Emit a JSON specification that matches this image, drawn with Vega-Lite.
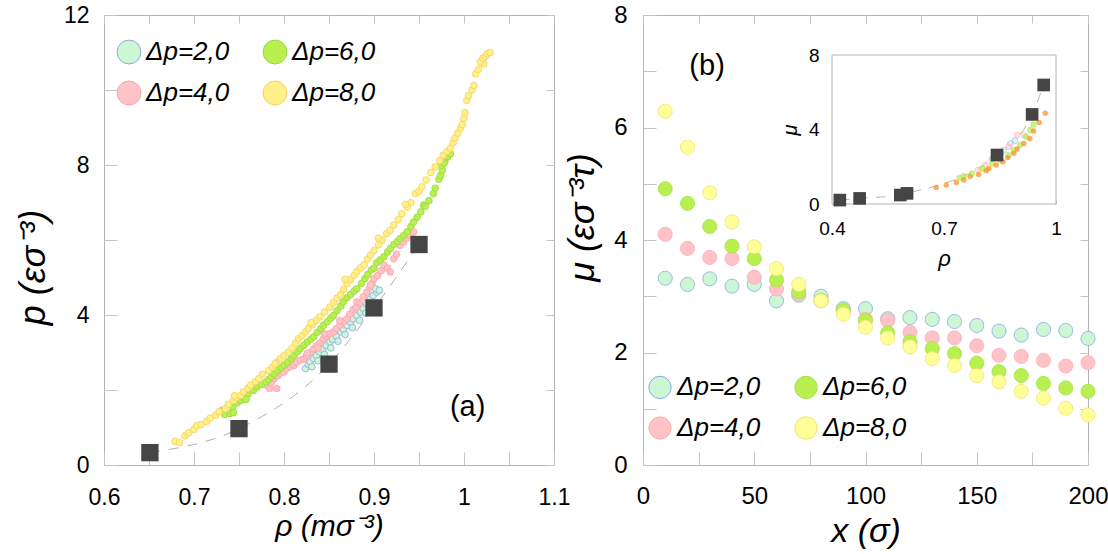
{
  "$schema": "https://vega.github.io/schema/vega-lite/v6.json",
  "autosize": {"type": "pad"},
  "padding": {"left": 14, "top": 2, "right": 0, "bottom": 0},
  "background": "white",
  "config": {
    "font": "Liberation Sans",
    "view": {"stroke": "#b4b4b4", "strokeWidth": 1},
    "axis": {
      "grid": false,
      "domain": false,
      "tickColor": "#c4c4c4",
      "tickWidth": 1,
      "labelColor": "black",
      "titleColor": "black",
      "titleFontWeight": "normal",
      "titleFontStyle": "italic",
      "labelFlush": false,
      "labelOverlap": false,
      "labelBound": false
    },
    "legend": {
      "labelFont": "Liberation Sans",
      "labelFontStyle": "italic",
      "labelColor": "black",
      "symbolStrokeWidth": 1,
      "symbolType": "circle"
    }
  },
  "datasets": {
    "pa_sq": [
      {"r": 0.651, "p": 0.33},
      {"r": 0.75, "p": 0.97},
      {"r": 0.85, "p": 2.69},
      {"r": 0.9, "p": 4.19},
      {"r": 0.95, "p": 5.88}
    ],
    "pa": [
      {"s": "Δp=2,0", "r": 0.824, "p": 2.57}, {"s": "Δp=2,0", "r": 0.827, "p": 2.68}, {"s": "Δp=2,0", "r": 0.829, "p": 2.75},
      {"s": "Δp=2,0", "r": 0.833, "p": 2.84}, {"s": "Δp=2,0", "r": 0.836, "p": 2.92}, {"s": "Δp=2,0", "r": 0.84, "p": 3.01},
      {"s": "Δp=2,0", "r": 0.843, "p": 3.08}, {"s": "Δp=2,0", "r": 0.847, "p": 3.18}, {"s": "Δp=2,0", "r": 0.851, "p": 3.28},
      {"s": "Δp=2,0", "r": 0.854, "p": 3.35}, {"s": "Δp=2,0", "r": 0.858, "p": 3.44}, {"s": "Δp=2,0", "r": 0.863, "p": 3.55},
      {"s": "Δp=2,0", "r": 0.866, "p": 3.62}, {"s": "Δp=2,0", "r": 0.87, "p": 3.72}, {"s": "Δp=2,0", "r": 0.874, "p": 3.81},
      {"s": "Δp=2,0", "r": 0.877, "p": 3.9}, {"s": "Δp=2,0", "r": 0.881, "p": 3.98}, {"s": "Δp=2,0", "r": 0.885, "p": 4.08},
      {"s": "Δp=2,0", "r": 0.888, "p": 4.18}, {"s": "Δp=2,0", "r": 0.892, "p": 4.3}, {"s": "Δp=2,0", "r": 0.896, "p": 4.43},
      {"s": "Δp=2,0", "r": 0.899, "p": 4.52}, {"s": "Δp=2,0", "r": 0.903, "p": 4.61}, {"s": "Δp=2,0", "r": 0.902, "p": 4.7},
      {"s": "Δp=2,0", "r": 0.906, "p": 4.66}, {"s": "Δp=2,0", "r": 0.831, "p": 2.62}, {"s": "Δp=2,0", "r": 0.838, "p": 2.78},
      {"s": "Δp=2,0", "r": 0.845, "p": 2.95}, {"s": "Δp=2,0", "r": 0.852, "p": 3.12}, {"s": "Δp=2,0", "r": 0.86, "p": 3.3},
      {"s": "Δp=2,0", "r": 0.868, "p": 3.48}, {"s": "Δp=2,0", "r": 0.876, "p": 3.66}, {"s": "Δp=2,0", "r": 0.884, "p": 3.86},
      {"s": "Δp=2,0", "r": 0.891, "p": 4.05}, {"s": "Δp=2,0", "r": 0.897, "p": 4.25},

      {"s": "Δp=4,0", "r": 0.781, "p": 2.12}, {"s": "Δp=4,0", "r": 0.784, "p": 2.04}, {"s": "Δp=4,0", "r": 0.792, "p": 2.04},
      {"s": "Δp=4,0", "r": 0.786, "p": 2.2}, {"s": "Δp=4,0", "r": 0.789, "p": 2.3}, {"s": "Δp=4,0", "r": 0.793, "p": 2.38},
      {"s": "Δp=4,0", "r": 0.796, "p": 2.45}, {"s": "Δp=4,0", "r": 0.8, "p": 2.48}, {"s": "Δp=4,0", "r": 0.803, "p": 2.57},
      {"s": "Δp=4,0", "r": 0.807, "p": 2.62}, {"s": "Δp=4,0", "r": 0.811, "p": 2.66}, {"s": "Δp=4,0", "r": 0.814, "p": 2.74},
      {"s": "Δp=4,0", "r": 0.818, "p": 2.8}, {"s": "Δp=4,0", "r": 0.822, "p": 2.83}, {"s": "Δp=4,0", "r": 0.825, "p": 2.92},
      {"s": "Δp=4,0", "r": 0.829, "p": 3.0}, {"s": "Δp=4,0", "r": 0.833, "p": 3.1}, {"s": "Δp=4,0", "r": 0.836, "p": 3.18},
      {"s": "Δp=4,0", "r": 0.84, "p": 3.26}, {"s": "Δp=4,0", "r": 0.844, "p": 3.37}, {"s": "Δp=4,0", "r": 0.847, "p": 3.43},
      {"s": "Δp=4,0", "r": 0.851, "p": 3.5}, {"s": "Δp=4,0", "r": 0.855, "p": 3.55}, {"s": "Δp=4,0", "r": 0.858, "p": 3.64},
      {"s": "Δp=4,0", "r": 0.862, "p": 3.73}, {"s": "Δp=4,0", "r": 0.866, "p": 3.82}, {"s": "Δp=4,0", "r": 0.87, "p": 3.9},
      {"s": "Δp=4,0", "r": 0.873, "p": 4.02}, {"s": "Δp=4,0", "r": 0.877, "p": 4.15}, {"s": "Δp=4,0", "r": 0.881, "p": 4.35},
      {"s": "Δp=4,0", "r": 0.884, "p": 4.3}, {"s": "Δp=4,0", "r": 0.888, "p": 4.48}, {"s": "Δp=4,0", "r": 0.892, "p": 4.61},
      {"s": "Δp=4,0", "r": 0.895, "p": 4.72}, {"s": "Δp=4,0", "r": 0.898, "p": 4.85}, {"s": "Δp=4,0", "r": 0.9, "p": 4.97},
      {"s": "Δp=4,0", "r": 0.904, "p": 5.05}, {"s": "Δp=4,0", "r": 0.908, "p": 5.18}, {"s": "Δp=4,0", "r": 0.911, "p": 5.33},
      {"s": "Δp=4,0", "r": 0.915, "p": 5.25}, {"s": "Δp=4,0", "r": 0.918, "p": 5.15}, {"s": "Δp=4,0", "r": 0.922, "p": 5.5},
      {"s": "Δp=4,0", "r": 0.925, "p": 5.62}, {"s": "Δp=4,0", "r": 0.929, "p": 5.86}, {"s": "Δp=4,0", "r": 0.933, "p": 5.95},
      {"s": "Δp=4,0", "r": 0.936, "p": 6.05}, {"s": "Δp=4,0", "r": 0.94, "p": 6.12}, {"s": "Δp=4,0", "r": 0.944, "p": 6.21},
      {"s": "Δp=4,0", "r": 0.826, "p": 2.98}, {"s": "Δp=4,0", "r": 0.845, "p": 3.5}, {"s": "Δp=4,0", "r": 0.862, "p": 3.85},
      {"s": "Δp=4,0", "r": 0.88, "p": 4.2}, {"s": "Δp=4,0", "r": 0.896, "p": 4.8}, {"s": "Δp=4,0", "r": 0.838, "p": 3.12},

      {"s": "Δp=6,0", "r": 0.731, "p": 1.46}, {"s": "Δp=6,0", "r": 0.734, "p": 1.35}, {"s": "Δp=6,0", "r": 0.74, "p": 1.37},
      {"s": "Δp=6,0", "r": 0.743, "p": 1.55}, {"s": "Δp=6,0", "r": 0.748, "p": 1.66}, {"s": "Δp=6,0", "r": 0.752, "p": 1.72},
      {"s": "Δp=6,0", "r": 0.755, "p": 1.81}, {"s": "Δp=6,0", "r": 0.76, "p": 1.9}, {"s": "Δp=6,0", "r": 0.766, "p": 1.99},
      {"s": "Δp=6,0", "r": 0.77, "p": 2.08}, {"s": "Δp=6,0", "r": 0.775, "p": 2.14}, {"s": "Δp=6,0", "r": 0.78, "p": 2.22},
      {"s": "Δp=6,0", "r": 0.783, "p": 2.28}, {"s": "Δp=6,0", "r": 0.786, "p": 2.36}, {"s": "Δp=6,0", "r": 0.789, "p": 2.43},
      {"s": "Δp=6,0", "r": 0.793, "p": 2.52}, {"s": "Δp=6,0", "r": 0.797, "p": 2.6}, {"s": "Δp=6,0", "r": 0.8, "p": 2.66},
      {"s": "Δp=6,0", "r": 0.804, "p": 2.74}, {"s": "Δp=6,0", "r": 0.808, "p": 2.84}, {"s": "Δp=6,0", "r": 0.811, "p": 2.92},
      {"s": "Δp=6,0", "r": 0.815, "p": 3.02}, {"s": "Δp=6,0", "r": 0.818, "p": 3.1}, {"s": "Δp=6,0", "r": 0.822, "p": 3.19},
      {"s": "Δp=6,0", "r": 0.826, "p": 3.28}, {"s": "Δp=6,0", "r": 0.83, "p": 3.36}, {"s": "Δp=6,0", "r": 0.833, "p": 3.42},
      {"s": "Δp=6,0", "r": 0.837, "p": 3.54}, {"s": "Δp=6,0", "r": 0.841, "p": 3.64}, {"s": "Δp=6,0", "r": 0.844, "p": 3.73},
      {"s": "Δp=6,0", "r": 0.848, "p": 3.82}, {"s": "Δp=6,0", "r": 0.852, "p": 3.92}, {"s": "Δp=6,0", "r": 0.855, "p": 3.99},
      {"s": "Δp=6,0", "r": 0.859, "p": 4.12}, {"s": "Δp=6,0", "r": 0.863, "p": 4.24}, {"s": "Δp=6,0", "r": 0.866, "p": 4.35},
      {"s": "Δp=6,0", "r": 0.87, "p": 4.46}, {"s": "Δp=6,0", "r": 0.874, "p": 4.55}, {"s": "Δp=6,0", "r": 0.878, "p": 4.64},
      {"s": "Δp=6,0", "r": 0.881, "p": 4.7}, {"s": "Δp=6,0", "r": 0.886, "p": 4.84}, {"s": "Δp=6,0", "r": 0.89, "p": 4.97},
      {"s": "Δp=6,0", "r": 0.893, "p": 5.08}, {"s": "Δp=6,0", "r": 0.897, "p": 5.2}, {"s": "Δp=6,0", "r": 0.9, "p": 5.25},
      {"s": "Δp=6,0", "r": 0.903, "p": 5.4}, {"s": "Δp=6,0", "r": 0.907, "p": 5.47}, {"s": "Δp=6,0", "r": 0.911, "p": 5.55},
      {"s": "Δp=6,0", "r": 0.915, "p": 5.68}, {"s": "Δp=6,0", "r": 0.918, "p": 5.77}, {"s": "Δp=6,0", "r": 0.922, "p": 5.88},
      {"s": "Δp=6,0", "r": 0.926, "p": 5.96}, {"s": "Δp=6,0", "r": 0.929, "p": 6.04}, {"s": "Δp=6,0", "r": 0.933, "p": 6.12},
      {"s": "Δp=6,0", "r": 0.937, "p": 6.22}, {"s": "Δp=6,0", "r": 0.941, "p": 6.36}, {"s": "Δp=6,0", "r": 0.944, "p": 6.48},
      {"s": "Δp=6,0", "r": 0.948, "p": 6.61}, {"s": "Δp=6,0", "r": 0.952, "p": 6.75}, {"s": "Δp=6,0", "r": 0.955, "p": 6.93},
      {"s": "Δp=6,0", "r": 0.957, "p": 6.9}, {"s": "Δp=6,0", "r": 0.961, "p": 7.05}, {"s": "Δp=6,0", "r": 0.966, "p": 7.24},
      {"s": "Δp=6,0", "r": 0.968, "p": 7.38}, {"s": "Δp=6,0", "r": 0.972, "p": 7.62}, {"s": "Δp=6,0", "r": 0.974, "p": 7.72},
      {"s": "Δp=6,0", "r": 0.976, "p": 7.86}, {"s": "Δp=6,0", "r": 0.979, "p": 8.12}, {"s": "Δp=6,0", "r": 0.982, "p": 8.22},
      {"s": "Δp=6,0", "r": 0.985, "p": 8.3}, {"s": "Δp=6,0", "r": 0.975, "p": 7.99}, {"s": "Δp=6,0", "r": 0.978, "p": 8.05},
      {"s": "Δp=6,0", "r": 0.744, "p": 1.4}, {"s": "Δp=6,0", "r": 0.758, "p": 1.75},

      {"s": "Δp=8,0", "r": 0.679, "p": 0.63}, {"s": "Δp=8,0", "r": 0.684, "p": 0.6}, {"s": "Δp=8,0", "r": 0.69, "p": 0.78},
      {"s": "Δp=8,0", "r": 0.694, "p": 0.86}, {"s": "Δp=8,0", "r": 0.7, "p": 0.95}, {"s": "Δp=8,0", "r": 0.703, "p": 1.05},
      {"s": "Δp=8,0", "r": 0.708, "p": 1.08}, {"s": "Δp=8,0", "r": 0.714, "p": 1.16}, {"s": "Δp=8,0", "r": 0.718, "p": 1.25},
      {"s": "Δp=8,0", "r": 0.724, "p": 1.33}, {"s": "Δp=8,0", "r": 0.728, "p": 1.42}, {"s": "Δp=8,0", "r": 0.735, "p": 1.5},
      {"s": "Δp=8,0", "r": 0.738, "p": 1.62}, {"s": "Δp=8,0", "r": 0.744, "p": 1.72}, {"s": "Δp=8,0", "r": 0.747, "p": 1.8},
      {"s": "Δp=8,0", "r": 0.752, "p": 1.86}, {"s": "Δp=8,0", "r": 0.755, "p": 1.95}, {"s": "Δp=8,0", "r": 0.76, "p": 2.05},
      {"s": "Δp=8,0", "r": 0.763, "p": 2.13}, {"s": "Δp=8,0", "r": 0.768, "p": 2.22}, {"s": "Δp=8,0", "r": 0.772, "p": 2.3},
      {"s": "Δp=8,0", "r": 0.776, "p": 2.42}, {"s": "Δp=8,0", "r": 0.783, "p": 2.52}, {"s": "Δp=8,0", "r": 0.787, "p": 2.6},
      {"s": "Δp=8,0", "r": 0.792, "p": 2.74}, {"s": "Δp=8,0", "r": 0.796, "p": 2.84}, {"s": "Δp=8,0", "r": 0.8, "p": 2.92},
      {"s": "Δp=8,0", "r": 0.805, "p": 3.01}, {"s": "Δp=8,0", "r": 0.809, "p": 3.12}, {"s": "Δp=8,0", "r": 0.813, "p": 3.25},
      {"s": "Δp=8,0", "r": 0.816, "p": 3.37}, {"s": "Δp=8,0", "r": 0.82, "p": 3.45}, {"s": "Δp=8,0", "r": 0.824, "p": 3.55},
      {"s": "Δp=8,0", "r": 0.827, "p": 3.64}, {"s": "Δp=8,0", "r": 0.832, "p": 3.74}, {"s": "Δp=8,0", "r": 0.836, "p": 3.86},
      {"s": "Δp=8,0", "r": 0.84, "p": 3.95}, {"s": "Δp=8,0", "r": 0.845, "p": 4.08}, {"s": "Δp=8,0", "r": 0.851, "p": 4.21},
      {"s": "Δp=8,0", "r": 0.855, "p": 4.33}, {"s": "Δp=8,0", "r": 0.859, "p": 4.45}, {"s": "Δp=8,0", "r": 0.863, "p": 4.54},
      {"s": "Δp=8,0", "r": 0.866, "p": 4.68}, {"s": "Δp=8,0", "r": 0.87, "p": 4.84}, {"s": "Δp=8,0", "r": 0.874, "p": 4.95},
      {"s": "Δp=8,0", "r": 0.878, "p": 5.06}, {"s": "Δp=8,0", "r": 0.881, "p": 5.16}, {"s": "Δp=8,0", "r": 0.885, "p": 5.26},
      {"s": "Δp=8,0", "r": 0.889, "p": 5.34}, {"s": "Δp=8,0", "r": 0.893, "p": 5.5}, {"s": "Δp=8,0", "r": 0.896, "p": 5.6},
      {"s": "Δp=8,0", "r": 0.9, "p": 5.72}, {"s": "Δp=8,0", "r": 0.905, "p": 5.87}, {"s": "Δp=8,0", "r": 0.909, "p": 6.0},
      {"s": "Δp=8,0", "r": 0.914, "p": 6.17}, {"s": "Δp=8,0", "r": 0.918, "p": 6.26}, {"s": "Δp=8,0", "r": 0.922, "p": 6.4},
      {"s": "Δp=8,0", "r": 0.927, "p": 6.54}, {"s": "Δp=8,0", "r": 0.931, "p": 6.7}, {"s": "Δp=8,0", "r": 0.937, "p": 6.88},
      {"s": "Δp=8,0", "r": 0.941, "p": 7.0}, {"s": "Δp=8,0", "r": 0.946, "p": 7.24}, {"s": "Δp=8,0", "r": 0.95, "p": 7.3},
      {"s": "Δp=8,0", "r": 0.953, "p": 7.42}, {"s": "Δp=8,0", "r": 0.958, "p": 7.6}, {"s": "Δp=8,0", "r": 0.963, "p": 7.8},
      {"s": "Δp=8,0", "r": 0.968, "p": 7.95}, {"s": "Δp=8,0", "r": 0.973, "p": 8.12}, {"s": "Δp=8,0", "r": 0.977, "p": 8.26},
      {"s": "Δp=8,0", "r": 0.981, "p": 8.36}, {"s": "Δp=8,0", "r": 0.985, "p": 8.45}, {"s": "Δp=8,0", "r": 0.988, "p": 8.6},
      {"s": "Δp=8,0", "r": 0.99, "p": 8.72}, {"s": "Δp=8,0", "r": 0.993, "p": 8.85}, {"s": "Δp=8,0", "r": 0.996, "p": 8.98},
      {"s": "Δp=8,0", "r": 0.998, "p": 9.08}, {"s": "Δp=8,0", "r": 1.0, "p": 9.25}, {"s": "Δp=8,0", "r": 1.001, "p": 9.4},
      {"s": "Δp=8,0", "r": 1.003, "p": 9.72}, {"s": "Δp=8,0", "r": 1.005, "p": 9.85}, {"s": "Δp=8,0", "r": 1.009, "p": 10.0},
      {"s": "Δp=8,0", "r": 1.011, "p": 10.12}, {"s": "Δp=8,0", "r": 1.013, "p": 10.43}, {"s": "Δp=8,0", "r": 1.016, "p": 10.55},
      {"s": "Δp=8,0", "r": 1.022, "p": 10.7}, {"s": "Δp=8,0", "r": 1.018, "p": 10.75}, {"s": "Δp=8,0", "r": 1.021, "p": 10.85},
      {"s": "Δp=8,0", "r": 1.024, "p": 10.9}, {"s": "Δp=8,0", "r": 1.026, "p": 10.97}, {"s": "Δp=8,0", "r": 1.029, "p": 11.0},
      {"s": "Δp=8,0", "r": 0.745, "p": 1.85}, {"s": "Δp=8,0", "r": 0.79, "p": 2.7}, {"s": "Δp=8,0", "r": 0.83, "p": 3.8},
      {"s": "Δp=8,0", "r": 0.868, "p": 4.95}, {"s": "Δp=8,0", "r": 0.905, "p": 6.05}, {"s": "Δp=8,0", "r": 0.935, "p": 6.95}
    ],
    "pb": [
      {"s": "Δp=2,0", "x": 10, "mu": 3.32}, {"s": "Δp=2,0", "x": 20, "mu": 3.21}, {"s": "Δp=2,0", "x": 30, "mu": 3.31},
      {"s": "Δp=2,0", "x": 40, "mu": 3.18}, {"s": "Δp=2,0", "x": 50, "mu": 3.21}, {"s": "Δp=2,0", "x": 60, "mu": 2.92},
      {"s": "Δp=2,0", "x": 70, "mu": 3.02}, {"s": "Δp=2,0", "x": 80, "mu": 3.0}, {"s": "Δp=2,0", "x": 90, "mu": 2.78},
      {"s": "Δp=2,0", "x": 100, "mu": 2.78}, {"s": "Δp=2,0", "x": 110, "mu": 2.6}, {"s": "Δp=2,0", "x": 120, "mu": 2.62},
      {"s": "Δp=2,0", "x": 130, "mu": 2.59}, {"s": "Δp=2,0", "x": 140, "mu": 2.55}, {"s": "Δp=2,0", "x": 150, "mu": 2.48},
      {"s": "Δp=2,0", "x": 160, "mu": 2.38}, {"s": "Δp=2,0", "x": 170, "mu": 2.31}, {"s": "Δp=2,0", "x": 180, "mu": 2.41},
      {"s": "Δp=2,0", "x": 190, "mu": 2.39}, {"s": "Δp=2,0", "x": 200, "mu": 2.25},
      {"s": "Δp=4,0", "x": 10, "mu": 4.1}, {"s": "Δp=4,0", "x": 20, "mu": 3.85}, {"s": "Δp=4,0", "x": 30, "mu": 3.69},
      {"s": "Δp=4,0", "x": 40, "mu": 3.67}, {"s": "Δp=4,0", "x": 50, "mu": 3.34}, {"s": "Δp=4,0", "x": 60, "mu": 3.13},
      {"s": "Δp=4,0", "x": 70, "mu": 3.05}, {"s": "Δp=4,0", "x": 80, "mu": 2.92}, {"s": "Δp=4,0", "x": 90, "mu": 2.74},
      {"s": "Δp=4,0", "x": 100, "mu": 2.59}, {"s": "Δp=4,0", "x": 110, "mu": 2.57}, {"s": "Δp=4,0", "x": 120, "mu": 2.36},
      {"s": "Δp=4,0", "x": 130, "mu": 2.26}, {"s": "Δp=4,0", "x": 140, "mu": 2.26}, {"s": "Δp=4,0", "x": 150, "mu": 2.12},
      {"s": "Δp=4,0", "x": 160, "mu": 1.95}, {"s": "Δp=4,0", "x": 170, "mu": 1.93}, {"s": "Δp=4,0", "x": 180, "mu": 1.86},
      {"s": "Δp=4,0", "x": 190, "mu": 1.76}, {"s": "Δp=4,0", "x": 200, "mu": 1.82},
      {"s": "Δp=6,0", "x": 10, "mu": 4.91}, {"s": "Δp=6,0", "x": 20, "mu": 4.65}, {"s": "Δp=6,0", "x": 30, "mu": 4.24},
      {"s": "Δp=6,0", "x": 40, "mu": 3.89}, {"s": "Δp=6,0", "x": 50, "mu": 3.67}, {"s": "Δp=6,0", "x": 60, "mu": 3.29},
      {"s": "Δp=6,0", "x": 70, "mu": 3.08}, {"s": "Δp=6,0", "x": 80, "mu": 2.93}, {"s": "Δp=6,0", "x": 90, "mu": 2.75},
      {"s": "Δp=6,0", "x": 100, "mu": 2.57}, {"s": "Δp=6,0", "x": 110, "mu": 2.35}, {"s": "Δp=6,0", "x": 120, "mu": 2.19},
      {"s": "Δp=6,0", "x": 130, "mu": 2.07}, {"s": "Δp=6,0", "x": 140, "mu": 1.98}, {"s": "Δp=6,0", "x": 150, "mu": 1.81},
      {"s": "Δp=6,0", "x": 160, "mu": 1.66}, {"s": "Δp=6,0", "x": 170, "mu": 1.59}, {"s": "Δp=6,0", "x": 180, "mu": 1.45},
      {"s": "Δp=6,0", "x": 190, "mu": 1.37}, {"s": "Δp=6,0", "x": 200, "mu": 1.31},
      {"s": "Δp=8,0", "x": 10, "mu": 6.29}, {"s": "Δp=8,0", "x": 20, "mu": 5.65}, {"s": "Δp=8,0", "x": 30, "mu": 4.84},
      {"s": "Δp=8,0", "x": 40, "mu": 4.32}, {"s": "Δp=8,0", "x": 50, "mu": 3.88}, {"s": "Δp=8,0", "x": 60, "mu": 3.49},
      {"s": "Δp=8,0", "x": 70, "mu": 3.21}, {"s": "Δp=8,0", "x": 80, "mu": 2.92}, {"s": "Δp=8,0", "x": 90, "mu": 2.68},
      {"s": "Δp=8,0", "x": 100, "mu": 2.45}, {"s": "Δp=8,0", "x": 110, "mu": 2.26}, {"s": "Δp=8,0", "x": 120, "mu": 2.1},
      {"s": "Δp=8,0", "x": 130, "mu": 1.89}, {"s": "Δp=8,0", "x": 140, "mu": 1.77}, {"s": "Δp=8,0", "x": 150, "mu": 1.59},
      {"s": "Δp=8,0", "x": 160, "mu": 1.48}, {"s": "Δp=8,0", "x": 170, "mu": 1.31}, {"s": "Δp=8,0", "x": 180, "mu": 1.19},
      {"s": "Δp=8,0", "x": 190, "mu": 1.01}, {"s": "Δp=8,0", "x": 200, "mu": 0.89}
    ],
    "ins_box": [{"r0": 0.4, "r1": 1.0, "m0": 0, "m1": 8}],
    "ins_sq": [
      {"r": 0.421, "mu": 0.21}, {"r": 0.474, "mu": 0.3}, {"r": 0.583, "mu": 0.48}, {"r": 0.601, "mu": 0.57},
      {"r": 0.842, "mu": 2.63}, {"r": 0.936, "mu": 4.81}, {"r": 0.967, "mu": 6.39}
    ],
    "ins_ref": [
      {"r": 0.679, "mu": 0.89}, {"r": 0.706, "mu": 1.02}, {"r": 0.733, "mu": 1.16},
      {"r": 0.753, "mu": 1.29}, {"r": 0.77, "mu": 1.47}, {"r": 0.793, "mu": 1.59},
      {"r": 0.813, "mu": 1.79}, {"r": 0.82, "mu": 1.91}, {"r": 0.84, "mu": 2.09},
      {"r": 0.858, "mu": 2.27}, {"r": 0.871, "mu": 2.49}, {"r": 0.887, "mu": 2.72},
      {"r": 0.896, "mu": 2.95}, {"r": 0.914, "mu": 3.25}, {"r": 0.93, "mu": 3.52},
      {"r": 0.94, "mu": 3.92}, {"r": 0.955, "mu": 4.37}, {"r": 0.971, "mu": 4.87}
    ],
    "ins_2": [
      {"r": 0.829, "mu": 2.42}, {"r": 0.842, "mu": 2.63}, {"r": 0.86, "mu": 2.9},
      {"r": 0.878, "mu": 3.25}, {"r": 0.89, "mu": 3.4}
    ],
    "ins_4": [
      {"r": 0.791, "mu": 1.83}, {"r": 0.811, "mu": 2.09}, {"r": 0.833, "mu": 2.45},
      {"r": 0.853, "mu": 2.72}, {"r": 0.873, "mu": 3.08}, {"r": 0.896, "mu": 3.7},
      {"r": 0.914, "mu": 3.7}
    ],
    "ins_6": [
      {"r": 0.742, "mu": 1.41}, {"r": 0.753, "mu": 1.5}, {"r": 0.775, "mu": 1.64},
      {"r": 0.802, "mu": 1.91}, {"r": 0.829, "mu": 2.18}, {"r": 0.851, "mu": 2.36},
      {"r": 0.873, "mu": 2.63}, {"r": 0.887, "mu": 2.9}, {"r": 0.904, "mu": 3.17},
      {"r": 0.92, "mu": 3.61}, {"r": 0.931, "mu": 3.97}, {"r": 0.94, "mu": 4.27}
    ]
  },
  "bounds": "flush",
  "spacing": 89,
  "resolve": {"scale": {"fill": "independent", "stroke": "independent"}},
  "hconcat": [
    {
      "width": 450,
      "height": 450,
      "resolve": {"axis": {"x": "independent", "y": "independent"}},
      "layer": [
        {
          "data": {"name": "pa_sq"},
          "mark": {"type": "line", "color": "#b0b0b0", "strokeWidth": 1, "strokeDash": [10, 9], "interpolate": "monotone"},
          "encoding": {
            "x": {
              "field": "r", "type": "quantitative",
              "scale": {"domain": [0.6, 1.1], "nice": false, "zero": false},
              "axis": {
                "orient": "bottom",
                "values": [0.6, 0.65, 0.7, 0.75, 0.8, 0.85, 0.9, 0.95, 1.0, 1.05, 1.1],
                "labelExpr": "abs(datum.value * 10 - round(datum.value * 10)) < 0.01 ? format(datum.value, '~g') : ''",
                "tickSize": -13, "labelPadding": 34, "labelFontSize": 23,
                "title": "ρ (mσ⁻³)", "titleFontSize": 30, "titlePadding": 2
              }
            },
            "y": {
              "field": "p", "type": "quantitative",
              "scale": {"domain": [0, 12], "nice": false},
              "axis": {
                "orient": "left",
                "values": [0, 2, 4, 6, 8, 10, 12],
                "labelExpr": "datum.value % 4 == 0 ? datum.label : ''",
                "tickSize": -13, "labelPadding": 28, "labelFontSize": 23,
                "title": "p (εσ⁻³)", "titleFontSize": 36, "titlePadding": 11, "titleY": 252
              }
            }
          }
        },
        {
          "data": {"name": "pa"},
          "mark": {"type": "point", "shape": "circle", "filled": true, "size": 45, "strokeWidth": 0.8, "opacity": 1},
          "encoding": {
            "x": {"field": "r", "type": "quantitative", "scale": {"domain": [0.6, 1.1], "nice": false, "zero": false}, "axis": null},
            "y": {"field": "p", "type": "quantitative", "scale": {"domain": [0, 12], "nice": false}, "axis": null},
            "fill": {
              "field": "s", "type": "nominal",
              "scale": {"domain": ["Δp=2,0", "Δp=4,0", "Δp=6,0", "Δp=8,0"], "range": ["#cdf6d3", "#ffc3c7", "#b9f050", "#fff08a"]},
              "legend": {
                "orient": "none", "legendX": 12, "legendY": 24, "columns": 2, "title": null,
                "symbolSize": 570, "labelFontSize": 26, "labelOffset": 4,
                "columnPadding": 31, "rowPadding": 13
              }
            },
            "stroke": {
              "field": "s", "type": "nominal",
              "scale": {"domain": ["Δp=2,0", "Δp=4,0", "Δp=6,0", "Δp=8,0"], "range": ["#8aa8ee", "#ffa2a8", "#9ad845", "#f6d060"]},
              "legend": {
                "orient": "none", "legendX": 12, "legendY": 24, "columns": 2, "title": null,
                "symbolSize": 570, "labelFontSize": 26, "labelOffset": 4,
                "columnPadding": 31, "rowPadding": 13
              }
            }
          }
        },
        {
          "data": {"name": "pa_sq"},
          "mark": {"type": "square", "filled": true, "size": 300, "color": "#454545", "opacity": 1},
          "encoding": {
            "x": {
              "field": "r", "type": "quantitative",
              "scale": {"domain": [0.6, 1.1], "nice": false, "zero": false},
              "axis": {"orient": "top", "values": [0.6, 0.65, 0.7, 0.75, 0.8, 0.85, 0.9, 0.95, 1.0, 1.05, 1.1], "labels": false, "tickSize": -8, "title": null}
            },
            "y": {
              "field": "p", "type": "quantitative",
              "scale": {"domain": [0, 12], "nice": false},
              "axis": {"orient": "right", "values": [0, 2, 4, 6, 8, 10, 12], "labels": false, "tickSize": -8, "title": null}
            }
          }
        },
        {
          "data": {"values": [{"t": "(a)", "r": 1.004, "p": 1.55}]},
          "mark": {"type": "text", "fontSize": 29, "font": "Liberation Sans", "color": "black"},
          "encoding": {
            "x": {"field": "r", "type": "quantitative", "scale": {"domain": [0.6, 1.1], "nice": false, "zero": false}, "axis": null},
            "y": {"field": "p", "type": "quantitative", "scale": {"domain": [0, 12], "nice": false}, "axis": null},
            "text": {"field": "t"}
          }
        }
      ]
    },
    {
      "width": 445,
      "height": 450,
      "resolve": {
        "scale": {"x": "independent", "y": "independent"},
        "axis": {"x": "independent", "y": "independent"}
      },
      "layer": [
        {
          "data": {"name": "pb"},
          "mark": {"type": "point", "shape": "circle", "filled": true, "size": 200, "strokeWidth": 0.8, "opacity": 1},
          "encoding": {
            "x": {
              "field": "x", "type": "quantitative",
              "scale": {"domain": [0, 200], "nice": false},
              "axis": {
                "orient": "bottom",
                "values": [0, 25, 50, 75, 100, 125, 150, 175, 200],
                "labelExpr": "datum.value % 50 == 0 ? datum.label : ''",
                "tickSize": -13, "labelPadding": 32, "labelFontSize": 24,
                "title": "x (σ)", "titleFontSize": 34, "titlePadding": 6
              }
            },
            "y": {
              "field": "mu", "type": "quantitative",
              "scale": {"domain": [0, 8], "nice": false},
              "axis": {
                "orient": "left",
                "values": [0, 1, 2, 3, 4, 5, 6, 7, 8],
                "labelExpr": "datum.value % 2 == 0 ? datum.label : ''",
                "tickSize": -13, "labelPadding": 29, "labelFontSize": 24,
                "title": "μ (εσ⁻³τ)", "titleFontSize": 36, "titlePadding": 12, "titleY": 202
              }
            },
            "fill": {
              "field": "s", "type": "nominal",
              "scale": {"domain": ["Δp=2,0", "Δp=4,0", "Δp=6,0", "Δp=8,0"], "range": ["#cdf6d3", "#ffc3c7", "#b9f050", "#ffff9a"]},
              "legend": {
                "orient": "none", "legendX": 4, "legendY": 359, "columns": 2, "title": null,
                "symbolSize": 500, "labelFontSize": 26, "labelOffset": 4,
                "columnPadding": 31, "rowPadding": 13
              }
            },
            "stroke": {
              "field": "s", "type": "nominal",
              "scale": {"domain": ["Δp=2,0", "Δp=4,0", "Δp=6,0", "Δp=8,0"], "range": ["#8aa8ee", "#ffb0b4", "#a6e04e", "#f8e070"]},
              "legend": {
                "orient": "none", "legendX": 4, "legendY": 359, "columns": 2, "title": null,
                "symbolSize": 500, "labelFontSize": 26, "labelOffset": 4,
                "columnPadding": 31, "rowPadding": 13
              }
            }
          }
        },
        {
          "data": {"values": [{"t": "(b)", "x": 28.8, "mu": 7.09}]},
          "mark": {"type": "text", "fontSize": 29, "font": "Liberation Sans", "color": "black"},
          "encoding": {
            "x": {
              "field": "x", "type": "quantitative",
              "scale": {"domain": [0, 200], "nice": false},
              "axis": {"orient": "top", "values": [0, 25, 50, 75, 100, 125, 150, 175, 200], "labels": false, "tickSize": -8, "title": null}
            },
            "y": {
              "field": "mu", "type": "quantitative",
              "scale": {"domain": [0, 8], "nice": false},
              "axis": {"orient": "right", "values": [0, 1, 2, 3, 4, 5, 6, 7, 8], "labels": false, "tickSize": -8, "title": null}
            },
            "text": {"field": "t"}
          }
        },
        {
          "data": {"name": "ins_box"},
          "mark": {"type": "rect", "fill": "white", "stroke": "#b4b4b4", "strokeWidth": 1},
          "encoding": {
            "x": {
              "field": "r0", "type": "quantitative",
              "scale": {"domain": [0.4, 1.0], "range": [189, 413], "nice": false, "zero": false},
              "axis": {
                "orient": "bottom", "offset": -261,
                "values": [0.4, 0.7, 1.0], "format": "~g",
                "tickSize": -4, "labelPadding": 19, "labelFontSize": 19,
                "title": "ρ", "titleFontSize": 22, "titlePadding": 10
              }
            },
            "x2": {"field": "r1"},
            "y": {
              "field": "m0", "type": "quantitative",
              "scale": {"domain": [0, 8], "range": [189, 40], "nice": false},
              "axis": {
                "orient": "left", "offset": -189,
                "values": [0, 4, 8],
                "tickSize": -4, "labelPadding": 17, "labelFontSize": 19,
                "title": "μ", "titleFontSize": 20, "titlePadding": 8
              }
            },
            "y2": {"field": "m1"}
          }
        },
        {
          "data": {"name": "ins_sq"},
          "mark": {"type": "line", "color": "#b8b8b8", "strokeWidth": 1, "strokeDash": [10, 8], "interpolate": "monotone"},
          "encoding": {
            "x": {"field": "r", "type": "quantitative", "scale": {"domain": [0.4, 1.0], "range": [189, 413], "nice": false, "zero": false}, "axis": null},
            "y": {"field": "mu", "type": "quantitative", "scale": {"domain": [0, 8], "range": [189, 40], "nice": false}, "axis": null}
          }
        },
        {
          "data": {"name": "ins_2"},
          "mark": {"type": "point", "shape": "circle", "filled": true, "size": 32, "strokeWidth": 0.8, "fill": "#e2f8e6", "stroke": "#7f9ff0"},
          "encoding": {
            "x": {"field": "r", "type": "quantitative", "scale": {"domain": [0.4, 1.0], "range": [189, 413], "nice": false, "zero": false}, "axis": null},
            "y": {"field": "mu", "type": "quantitative", "scale": {"domain": [0, 8], "range": [189, 40], "nice": false}, "axis": null}
          }
        },
        {
          "data": {"name": "ins_4"},
          "mark": {"type": "point", "shape": "circle", "filled": true, "size": 32, "strokeWidth": 0.8, "fill": "#ffd6da", "stroke": "#ff9aa0"},
          "encoding": {
            "x": {"field": "r", "type": "quantitative", "scale": {"domain": [0.4, 1.0], "range": [189, 413], "nice": false, "zero": false}, "axis": null},
            "y": {"field": "mu", "type": "quantitative", "scale": {"domain": [0, 8], "range": [189, 40], "nice": false}, "axis": null}
          }
        },
        {
          "data": {"name": "ins_6"},
          "mark": {"type": "point", "shape": "circle", "filled": true, "size": 32, "strokeWidth": 0.8, "fill": "#b9f050", "stroke": "#a6e04e"},
          "encoding": {
            "x": {"field": "r", "type": "quantitative", "scale": {"domain": [0.4, 1.0], "range": [189, 413], "nice": false, "zero": false}, "axis": null},
            "y": {"field": "mu", "type": "quantitative", "scale": {"domain": [0, 8], "range": [189, 40], "nice": false}, "axis": null}
          }
        },
        {
          "data": {"name": "ins_ref"},
          "mark": {"type": "point", "shape": "circle", "filled": true, "size": 30, "strokeWidth": 0, "fill": "#ff8c1a"},
          "encoding": {
            "x": {"field": "r", "type": "quantitative", "scale": {"domain": [0.4, 1.0], "range": [189, 413], "nice": false, "zero": false}, "axis": null},
            "y": {"field": "mu", "type": "quantitative", "scale": {"domain": [0, 8], "range": [189, 40], "nice": false}, "axis": null}
          }
        },
        {
          "data": {"name": "ins_sq"},
          "mark": {"type": "square", "filled": true, "size": 160, "color": "#454545", "opacity": 1},
          "encoding": {
            "x": {"field": "r", "type": "quantitative", "scale": {"domain": [0.4, 1.0], "range": [189, 413], "nice": false, "zero": false}, "axis": null},
            "y": {"field": "mu", "type": "quantitative", "scale": {"domain": [0, 8], "range": [189, 40], "nice": false}, "axis": null}
          }
        }
      ]
    }
  ]
}
